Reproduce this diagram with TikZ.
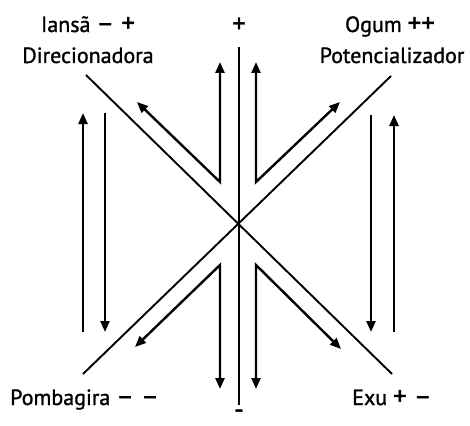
\documentclass[tikz,border=0pt]{standalone}
\usepackage{fontspec}
\newfontfamily\lblfont{PT Sans}[FakeBold=1.2]
\usetikzlibrary{arrows.meta}

\newcommand{\sgn}[1]{{\fontsize{27}{27}\selectfont #1}}

\tikzset{
  lbl/.style={font=\lblfont\fontsize{22}{25}\selectfont, inner sep=0pt, anchor=base},
  axe/.style={line width=1.9pt},
  flux/.style={line width=2.4pt, line join=miter, -{Triangle[length=11pt,width=9pt]}},
  fluxx/.style={line width=2.4pt, line join=miter, {Triangle[length=11pt,width=9pt]}-{Triangle[length=11pt,width=9pt]}}
}

\begin{document}
\begin{tikzpicture}[x=1pt,y=-1pt]
  \useasboundingbox (0,0) rectangle (470,425);
  % labels
  \node[lbl] (iansa) at (88,32) {Iansã \sgn{– +}};
  \node[lbl] (dir) at (88,63) {Direcionadora};
  \node[lbl] (ogum) at (390,32) {Ogum \sgn{++}};
  \node[lbl] (pot) at (392,63) {Potencializador};
  \node[lbl, anchor=base west] (pomba) at (10,405) {Pombagira \sgn{– –}};
  \node[lbl, anchor=base west] (exu) at (352,405) {Exu \sgn{+ –}};
  \node[lbl, anchor=center] (mais) at (239,25) {\sgn{+}};
  \node[lbl, anchor=center] (menos) at (239,414) {\sgn{-}};
  % cross
  \draw[axe] (239,47) -- (239,405);
  \draw[axe] (86,75) -- (392,374);
  \draw[axe] (83,374) -- (391,76);
  % arrows near the cross
  \draw[fluxx] (137,102) -- (220,182) -- (220,62);
  \draw[fluxx] (340,102) -- (256,182) -- (256,62);
  \draw[fluxx] (135,347) -- (220,265) -- (220,389);
  \draw[fluxx] (341,349) -- (256,265) -- (256,389);
  % side arrows
  \draw[flux] (83,332) -- (83,113);
  \draw[flux] (105,113) -- (105,332);
  \draw[flux] (371,115) -- (371,332);
  \draw[flux] (394,332) -- (394,115);
\end{tikzpicture}
\end{document}
